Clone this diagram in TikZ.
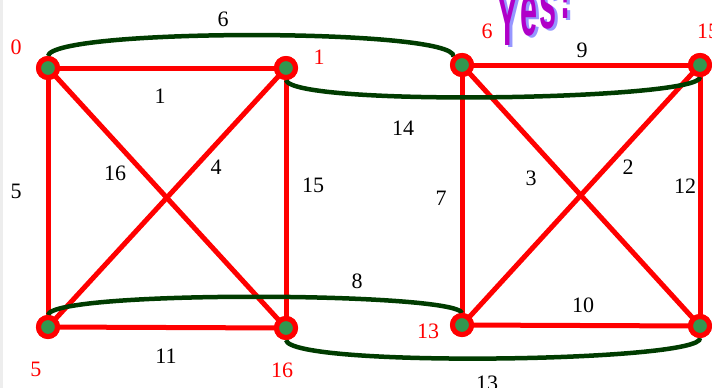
\documentclass[tikz,border=0pt]{standalone}
\usepackage{fontspec}
\setmainfont{Liberation Serif}
\newfontfamily\wordart{Liberation Sans}
\definecolor{vgreen}{RGB}{50,150,80}
\definecolor{dgreen}{RGB}{0,60,0}
\definecolor{yespurple}{RGB}{176,0,200}
\definecolor{yesshadow}{RGB}{150,150,255}
\begin{document}
\begin{tikzpicture}[x=1pt,y=-1pt,
  vtx/.style={circle,draw=red,line width=5pt,fill=vgreen,minimum size=19pt,inner sep=0pt},
  redge/.style={red,line width=5pt},
  gcurve/.style={dgreen,line width=4.5pt},
  elab/.style={font=\fontsize{22}{22}\selectfont,text=black,inner sep=0pt},
  vlab/.style={font=\fontsize{22}{22}\selectfont,text=red,inner sep=0pt},
  yesl/.style={font=\wordart\bfseries\fontsize{34}{34}\selectfont,inner sep=0pt,anchor=south,xscale=0.9,yscale=2.2}]
\clip (0,0) rectangle (712,388);
\fill[white] (0,0) rectangle (712,388);
\fill[black!7] (0,0) rectangle (3,388);
% Yes! wordart
\foreach \ch/\xx/\yy [count=\i] in {Y/508/46,e/529/37,s/548/30,!/566/19}{
  \node[yesl,text=yesshadow] (ys\i) at (\xx+3,\yy+2) {\ch};
  \node[yesl,text=yespurple] (yt\i) at (\xx,\yy) {\ch};
}
% red edges
\coordinate (p0) at (48,68);
\coordinate (p1) at (286,68);
\coordinate (p5) at (48,327);
\coordinate (p16) at (286,328);
\coordinate (p6) at (462,65);
\coordinate (p15) at (700,65);
\coordinate (p13) at (462,325);
\coordinate (pbr) at (700,326);
\draw[redge] (p0) -- (p1);
\draw[redge] (p0) -- (p5);
\draw[redge] (p0) -- (p16);
\draw[redge] (p1) -- (p5);
\draw[redge] (p1) -- (p16);
\draw[redge] (p5) -- (p16);
\draw[redge] (p6) -- (p15);
\draw[redge] (p6) -- (p13);
\draw[redge] (p6) -- (pbr);
\draw[redge] (p15) -- (p13);
\draw[redge] (p15) -- (pbr);
\draw[redge] (p13) -- (pbr);
% vertices
\node[vtx] (n0) at (p0) {};
\node[vtx] (n1) at (p1) {};
\node[vtx] (n5) at (p5) {};
\node[vtx] (n16) at (p16) {};
\node[vtx] (n6) at (p6) {};
\node[vtx] (n15) at (p15) {};
\node[vtx] (n13) at (p13) {};
\node[vtx] (nbr) at (pbr) {};
% green curves
\draw[gcurve] (n0.north) .. controls (52,28) and (456,28) .. (n6.north west);
\draw[gcurve] (n1.south) .. controls (292,107) and (702,100) .. (n15.south);
\draw[gcurve] (n5.north) .. controls (52,290) and (455,292) .. (n13.north);
\draw[gcurve] (n16.south) .. controls (290,368) and (704,362) .. (nbr.south);
% vertices redrawn on top of the curves
\node[vtx] (t0) at (p0) {};
\node[vtx] (t1) at (p1) {};
\node[vtx] (t5) at (p5) {};
\node[vtx] (t16) at (p16) {};
\node[vtx] (t6) at (p6) {};
\node[vtx] (t15) at (p15) {};
\node[vtx] (t13) at (p13) {};
\node[vtx] (tbr) at (pbr) {};
% vertex labels
\node[vlab] (l0) at (16,47) {0};
\node[vlab] (l1) at (319,57) {1};
\node[vlab] (l5) at (36,369) {5};
\node[vlab] (l16) at (282,370) {16};
\node[vlab] (l6) at (487,31) {6};
\node[vlab] (l15) at (708,31) {15};
\node[vlab] (l13) at (428,331) {13};
% edge labels
\node[elab] (e6) at (223,19) {6};
\node[elab] (e1) at (160,96) {1};
\node[elab] (e14) at (403,128) {14};
\node[elab] (e5) at (16,191) {5};
\node[elab] (e16) at (115,173) {16};
\node[elab] (e4) at (216,167) {4};
\node[elab] (e15) at (313,185) {15};
\node[elab] (e7) at (441,198) {7};
\node[elab] (e3) at (531,178) {3};
\node[elab] (e2) at (628,167) {2};
\node[elab] (e12) at (685,186) {12};
\node[elab] (e8) at (357,281) {8};
\node[elab] (e10) at (583,305) {10};
\node[elab] (e11) at (166,356) {11};
\node[elab] (e13) at (487,383) {13};
\node[elab] (e9) at (582,50) {9};
\end{tikzpicture}
\end{document}
